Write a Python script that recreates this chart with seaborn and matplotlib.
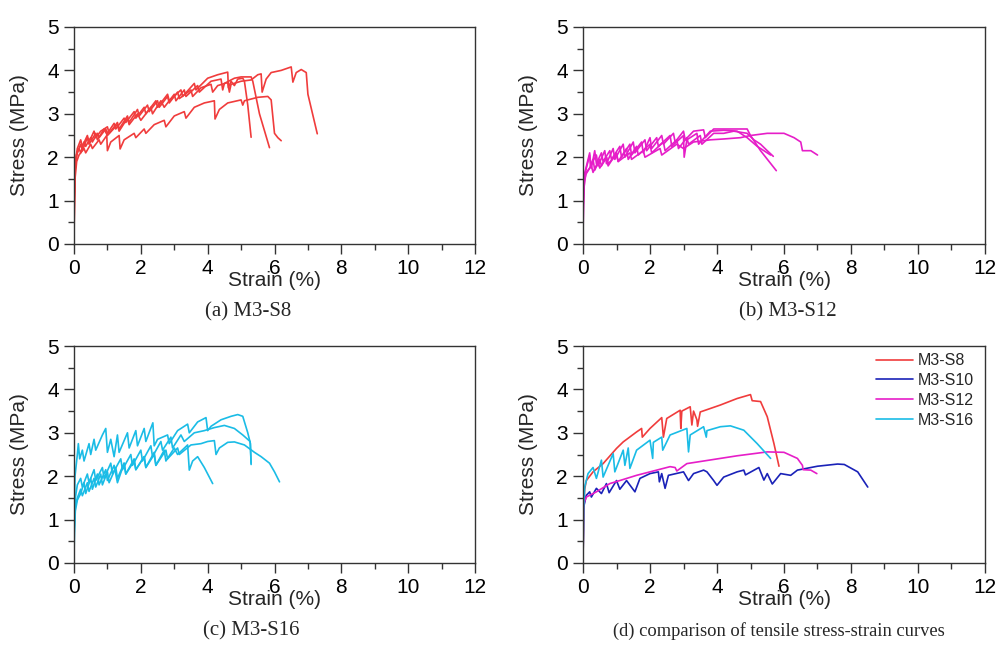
import numpy as np
import pandas as pd
import matplotlib
matplotlib.use("Agg")
import matplotlib.pyplot as plt
from matplotlib.ticker import MultipleLocator
import seaborn as sns

# ---------------- data ----------------
# (a) M3-S8 specimens
s8_1_strain = [0, 0.01, 0.03, 0.07, 0.15, 0.2, 0.3, 0.35, 0.5, 0.55, 0.7, 0.75, 0.95, 1.0, 1.2, 1.25, 1.5, 1.55, 1.8, 1.85, 2.1, 2.15, 2.45, 2.5, 2.8, 2.85, 3.2, 3.25, 3.6, 3.65, 4.0, 4.3, 4.6, 4.62, 4.7, 4.8, 4.9, 5.05, 5.1, 5.2, 5.3]
s8_1_stress = [0, 0.9, 1.7, 2.05, 2.2, 2.1, 2.35, 2.25, 2.45, 2.35, 2.55, 2.45, 2.65, 2.55, 2.78, 2.65, 2.9, 2.8, 3.05, 2.9, 3.15, 3.0, 3.3, 3.15, 3.45, 3.3, 3.55, 3.4, 3.7, 3.55, 3.82, 3.9, 3.96, 3.6, 3.75, 3.65, 3.8, 3.82, 3.75, 3.2, 2.46]
s8_2_strain = [0, 0.01, 0.04, 0.1, 0.2, 0.25, 0.4, 0.45, 0.65, 0.7, 0.9, 1.0, 1.3, 1.35, 1.6, 1.65, 1.9, 2.0, 2.3, 2.35, 2.6, 2.7, 3.0, 3.05, 3.3, 3.35, 3.7, 3.75, 4.1, 4.4, 4.45, 4.5, 4.8, 5.0, 5.3, 5.35, 5.55, 5.85]
s8_2_stress = [0, 1.0, 1.8, 2.1, 2.3, 2.15, 2.45, 2.3, 2.55, 2.4, 2.65, 2.5, 2.75, 2.6, 2.9, 2.75, 3.0, 2.85, 3.15, 3.0, 3.3, 3.15, 3.45, 3.3, 3.55, 3.4, 3.65, 3.5, 3.75, 3.8, 3.55, 3.7, 3.82, 3.85, 3.85, 3.75, 3.0, 2.22]
s8_3_strain = [0, 0.01, 0.03, 0.08, 0.15, 0.3, 0.35, 0.5, 0.55, 0.75, 0.8, 0.98, 1.0, 1.1, 1.35, 1.38, 1.5, 1.8, 1.85, 2.1, 2.15, 2.4, 2.7, 2.75, 3.0, 3.3, 3.35, 3.6, 3.9, 4.2, 4.22, 4.35, 4.6, 5.0, 5.05, 5.1, 5.5, 5.8, 5.9, 6.0, 6.1, 6.2]
s8_3_stress = [0, 0.8, 1.5, 1.9, 2.05, 2.2, 2.1, 2.3, 2.2, 2.4, 2.3, 2.5, 2.15, 2.35, 2.5, 2.19, 2.4, 2.55, 2.45, 2.65, 2.55, 2.75, 2.85, 2.7, 2.95, 3.05, 2.9, 3.15, 3.25, 3.3, 2.88, 3.1, 3.25, 3.32, 3.2, 3.3, 3.38, 3.4, 3.32, 2.55, 2.45, 2.38]
s8_4_strain = [0, 0.01, 0.04, 0.1, 0.2, 0.25, 0.4, 0.45, 0.6, 0.65, 0.8, 1.0, 1.05, 1.3, 1.35, 1.6, 1.65, 1.9, 1.95, 2.2, 2.25, 2.5, 2.55, 2.8, 2.85, 3.1, 3.15, 3.5, 3.55, 3.8, 4.1, 4.15, 4.3, 4.6, 4.65, 4.7, 5.0, 5.3, 5.5, 5.6, 5.63, 5.75, 5.9, 6.2, 6.5, 6.55, 6.65, 6.8, 6.95, 7.0, 7.28]
s8_4_stress = [0, 1.1, 1.9, 2.2, 2.4, 2.25, 2.5, 2.35, 2.6, 2.45, 2.6, 2.7, 2.55, 2.8, 2.65, 2.95, 2.8, 3.1, 2.95, 3.2, 3.05, 3.3, 3.15, 3.4, 3.25, 3.5, 3.35, 3.55, 3.4, 3.6, 3.68, 3.5, 3.65, 3.72, 3.5, 3.68, 3.75, 3.78, 3.9, 3.92, 3.5, 3.8, 3.95, 4.0, 4.08, 3.73, 3.95, 4.02, 3.95, 3.45, 2.54]

# (b) M3-S12 specimens
s12_1_strain = [0, 0.01, 0.03, 0.08, 0.2, 0.3, 0.35, 0.5, 0.55, 0.7, 0.75, 1.0, 1.05, 1.4, 1.45, 1.8, 1.85, 2.3, 2.35, 2.8, 3.0, 3.3, 3.8, 4.2, 4.7, 5.0, 5.5, 6.0, 6.3, 6.5, 6.55, 6.8, 7.0]
s12_1_stress = [0, 0.8, 1.3, 1.6, 1.75, 1.95, 1.7, 1.95, 1.8, 2.0, 1.85, 2.05, 1.9, 2.1, 1.95, 2.15, 2.0, 2.2, 2.05, 2.3, 2.2, 2.35, 2.4, 2.42, 2.45, 2.5, 2.55, 2.55, 2.45, 2.35, 2.15, 2.15, 2.05]
s12_2_strain = [0, 0.01, 0.03, 0.1, 0.2, 0.25, 0.35, 0.4, 0.55, 0.6, 0.8, 0.85, 1.1, 1.15, 1.4, 1.45, 1.75, 1.8, 2.0, 2.05, 2.35, 2.4, 2.7, 2.75, 3.0, 3.05, 3.3, 3.6, 3.65, 3.9, 4.3, 4.9, 5.0, 5.3, 5.77]
s12_2_stress = [0, 1.0, 1.5, 1.75, 2.05, 1.75, 2.15, 1.85, 2.1, 1.9, 2.15, 1.95, 2.25, 2.0, 2.3, 2.05, 2.35, 2.1, 2.45, 2.2, 2.5, 2.3, 2.55, 2.35, 2.6, 2.4, 2.6, 2.63, 2.45, 2.65, 2.65, 2.65, 2.5, 2.15, 1.69]
s12_3_strain = [0, 0.01, 0.04, 0.1, 0.25, 0.3, 0.45, 0.5, 0.7, 0.75, 1.0, 1.05, 1.3, 1.35, 1.6, 1.65, 2.0, 2.05, 2.4, 2.45, 2.8, 2.85, 3.1, 3.15, 3.5, 3.55, 3.9, 4.2, 4.5, 4.9, 5.1, 5.3, 5.5, 5.68]
s12_3_stress = [0, 0.9, 1.45, 1.65, 1.8, 1.65, 1.9, 1.75, 2.0, 1.8, 2.1, 1.9, 2.2, 1.95, 2.25, 2.05, 2.3, 2.1, 2.35, 2.15, 2.4, 2.2, 2.45, 2.3, 2.5, 2.3, 2.55, 2.55, 2.6, 2.55, 2.4, 2.3, 2.15, 2.02]
s12_4_strain = [0, 0.01, 0.04, 0.12, 0.2, 0.22, 0.4, 0.45, 0.65, 0.7, 0.9, 0.95, 1.2, 1.25, 1.5, 1.55, 1.85, 1.9, 2.2, 2.25, 2.6, 2.65, 3.0, 3.02, 3.1, 3.4, 3.45, 3.8, 4.2, 4.6, 4.9, 5.2, 5.6]
s12_4_stress = [0, 1.1, 1.6, 1.85, 2.1, 1.8, 2.05, 1.8, 2.15, 1.85, 2.2, 1.95, 2.3, 2.0, 2.35, 2.1, 2.4, 2.15, 2.45, 2.25, 2.5, 2.25, 2.5, 2.0, 2.4, 2.55, 2.3, 2.6, 2.62, 2.6, 2.45, 2.25, 2.05]

# (c) M3-S16 specimens
s16_1_strain = [0, 0.01, 0.03, 0.1, 0.13, 0.17, 0.25, 0.3, 0.45, 0.5, 0.6, 0.65, 0.85, 0.95, 1.0, 1.1, 1.2, 1.3, 1.35, 1.6, 1.65, 1.85, 1.9, 2.1, 2.15, 2.36, 2.4, 2.5, 2.8, 2.85, 3.1, 3.4, 3.45, 3.7, 3.95, 4.0, 4.1, 4.4, 4.7, 4.9, 5.05, 5.2, 5.28, 5.3]
s16_1_stress = [0, 1.2, 2.0, 2.5, 2.75, 2.4, 2.6, 2.35, 2.75, 2.5, 2.85, 2.6, 2.95, 3.1, 2.55, 2.85, 2.45, 2.95, 2.55, 3.0, 2.65, 3.05, 2.7, 3.1, 2.8, 3.23, 2.7, 2.85, 2.95, 2.75, 3.05, 3.2, 3.0, 3.25, 3.35, 3.05, 3.15, 3.3, 3.38, 3.42, 3.38, 3.0, 2.75, 2.27]
s16_2_strain = [0, 0.01, 0.04, 0.1, 0.2, 0.25, 0.4, 0.45, 0.6, 0.65, 0.8, 0.85, 1.0, 1.05, 1.25, 1.3, 1.5, 1.55, 1.8, 1.85, 2.1, 2.15, 2.4, 2.45, 2.7, 2.75, 3.0, 3.1, 3.4, 3.45, 3.55, 3.7, 3.9, 4.15]
s16_2_stress = [0, 0.8, 1.3, 1.5, 1.7, 1.55, 1.85, 1.65, 1.95, 1.75, 2.05, 1.8, 2.1, 1.85, 2.2, 1.95, 2.3, 2.05, 2.4, 2.15, 2.45, 2.2, 2.55, 2.25, 2.6, 2.35, 2.65, 2.5, 2.72, 2.14, 2.35, 2.45, 2.2, 1.83]
s16_3_strain = [0, 0.01, 0.04, 0.1, 0.2, 0.25, 0.4, 0.45, 0.6, 0.65, 0.85, 0.9, 1.1, 1.15, 1.4, 1.45, 1.7, 1.75, 2.0, 2.05, 2.3, 2.35, 2.6, 2.65, 2.9, 2.95, 3.2, 3.3, 3.6, 3.9, 4.2, 4.5, 4.8, 5.05, 5.27, 5.3]
s16_3_stress = [0, 0.9, 1.5, 1.8, 1.95, 1.75, 2.05, 1.85, 2.15, 1.9, 2.2, 1.95, 2.3, 2.05, 2.4, 2.15, 2.5, 2.25, 2.6, 2.35, 2.7, 2.45, 2.8, 2.6, 2.9, 2.65, 2.95, 2.8, 3.0, 3.05, 3.12, 3.17, 3.1, 2.95, 2.8, 2.3]
s16_4_strain = [0, 0.01, 0.04, 0.1, 0.2, 0.3, 0.35, 0.5, 0.55, 0.7, 0.75, 0.95, 1.0, 1.2, 1.3, 1.5, 1.55, 1.8, 1.85, 2.1, 2.15, 2.4, 2.45, 2.75, 2.8, 3.1, 3.15, 3.5, 3.8, 4.0, 4.2, 4.25, 4.35, 4.6, 4.8, 5.1, 5.4, 5.6, 5.85, 6.0, 6.15]
s16_4_stress = [0, 0.7, 1.2, 1.45, 1.6, 1.85, 1.6, 1.95, 1.7, 2.05, 1.8, 2.15, 1.9, 2.25, 1.85, 2.3, 2.05, 2.35, 2.15, 2.45, 2.2, 2.5, 2.25, 2.6, 2.4, 2.65, 2.5, 2.72, 2.75, 2.8, 2.82, 2.5, 2.65, 2.78, 2.79, 2.72, 2.55, 2.45, 2.3, 2.1, 1.87]

# (d) representative curves
cmp_s8_strain = [0, 0.02, 0.05, 0.1, 0.3, 0.6, 1.0, 1.2, 1.6, 1.75, 1.77, 2.0, 2.35, 2.4, 2.5, 2.9, 2.92, 2.95, 3.2, 3.25, 3.3, 3.4, 3.42, 3.5, 4.1, 4.6, 5.0, 5.05, 5.3, 5.5, 5.7, 5.85]
cmp_s8_stress = [0, 1.2, 1.7, 1.9, 2.1, 2.29, 2.64, 2.79, 3.02, 3.1, 2.9, 3.1, 3.35, 2.9, 3.33, 3.52, 3.1, 3.5, 3.6, 3.18, 3.5, 3.3, 3.15, 3.48, 3.64, 3.79, 3.88, 3.74, 3.72, 3.37, 2.75, 2.23]
cmp_s10_strain = [0, 0.02, 0.1, 0.2, 0.25, 0.4, 0.55, 0.7, 0.78, 1.0, 1.1, 1.3, 1.55, 1.7, 2.0, 2.25, 2.28, 2.35, 2.45, 2.55, 3.0, 3.15, 3.3, 3.6, 3.7, 3.9, 4.0, 4.2, 4.6, 4.8, 4.85, 5.25, 5.4, 5.5, 5.65, 5.9, 6.2, 6.4, 7.0, 7.6, 7.8, 8.2, 8.5]
cmp_s10_stress = [0, 1.29, 1.56, 1.64, 1.52, 1.72, 1.6, 1.83, 1.62, 1.9, 1.7, 1.9, 1.64, 1.95, 2.06, 2.1, 1.87, 2.06, 1.72, 2.02, 2.1, 1.9, 2.06, 2.14, 2.1, 1.9, 1.79, 1.98, 2.1, 2.14, 2.03, 2.2, 1.91, 2.06, 1.82, 2.06, 2.02, 2.14, 2.23, 2.28, 2.27, 2.1, 1.75]
cmp_s12_strain = [0, 0.02, 0.1, 0.4, 0.8, 1.1, 1.6, 2.1, 2.6, 2.75, 2.8, 3.1, 3.6, 4.1, 4.6, 5.1, 5.5, 6.0, 6.4, 6.55, 6.57, 6.8, 6.98]
cmp_s12_stress = [0, 1.37, 1.52, 1.64, 1.83, 1.9, 2.02, 2.12, 2.22, 2.2, 2.12, 2.29, 2.35, 2.41, 2.47, 2.52, 2.56, 2.55, 2.41, 2.25, 2.15, 2.14, 2.06]
cmp_s16_strain = [0, 0.02, 0.05, 0.15, 0.3, 0.4, 0.55, 0.6, 0.9, 0.95, 1.2, 1.25, 1.35, 1.4, 1.6, 2.0, 2.08, 2.1, 2.35, 2.38, 2.6, 3.1, 3.15, 3.2, 3.6, 3.68, 3.7, 4.1, 4.4, 4.8, 5.2, 5.6]
cmp_s16_stress = [0, 1.3, 1.75, 2.06, 2.2, 1.95, 2.37, 1.98, 2.52, 2.1, 2.6, 2.25, 2.65, 2.18, 2.6, 2.83, 2.41, 2.78, 2.9, 2.6, 2.95, 3.1, 2.56, 2.95, 3.14, 2.9, 3.05, 3.14, 3.16, 3.06, 2.75, 2.41]

legend_labels = ["M3-S8", "M3-S10", "M3-S12", "M3-S16"]
captions = ["(a) M3-S8", "(b) M3-S12", "(c) M3-S16", "(d) comparison of tensile stress-strain curves"]
x_ticks = [0, 2, 4, 6, 8, 10, 12]
y_ticks = [0, 1, 2, 3, 4, 5]

# ---------------- styling ----------------
sns.set_theme(style="ticks")
plt.rcParams["font.family"] = ["Liberation Sans", "DejaVu Sans"]

RED = "#F03C3C"
BLUE = "#1A22B8"
MAGENTA = "#E61EC8"
CYAN = "#1ABCE6"

W, H = 998, 646
fig = plt.figure(figsize=(W / 100, H / 100), dpi=100)

def box(left, top, right, bottom):
    return [left / W, 1 - bottom / H, (right - left) / W, (bottom - top) / H]

ax_pos = [box(74, 27, 475, 244), box(583, 27, 985, 244),
          box(74, 346, 475, 563), box(583, 346, 985, 563)]
axes = [fig.add_axes(p) for p in ax_pos]

def curves_df(pairs):
    frames = []
    for i, (sx, sy) in enumerate(pairs):
        frames.append(pd.DataFrame({"strain": sx, "stress": sy, "specimen": i}))
    return pd.concat(frames, ignore_index=True)

panel_sets = [
    ([(s8_1_strain, s8_1_stress), (s8_2_strain, s8_2_stress),
      (s8_3_strain, s8_3_stress), (s8_4_strain, s8_4_stress)], RED),
    ([(s12_1_strain, s12_1_stress), (s12_2_strain, s12_2_stress),
      (s12_3_strain, s12_3_stress), (s12_4_strain, s12_4_stress)], MAGENTA),
    ([(s16_1_strain, s16_1_stress), (s16_2_strain, s16_2_stress),
      (s16_3_strain, s16_3_stress), (s16_4_strain, s16_4_stress)], CYAN),
]

for ax, (pairs, col) in zip(axes[:3], panel_sets):
    df = curves_df(pairs)
    sns.lineplot(data=df, x="strain", y="stress", units="specimen", estimator=None,
                 sort=False, color=col, lw=1.2, ax=ax)

cmp_df = pd.concat([
    pd.DataFrame({"strain": cmp_s8_strain, "stress": cmp_s8_stress, "series": legend_labels[0]}),
    pd.DataFrame({"strain": cmp_s10_strain, "stress": cmp_s10_stress, "series": legend_labels[1]}),
    pd.DataFrame({"strain": cmp_s12_strain, "stress": cmp_s12_stress, "series": legend_labels[2]}),
    pd.DataFrame({"strain": cmp_s16_strain, "stress": cmp_s16_stress, "series": legend_labels[3]}),
], ignore_index=True)
sns.lineplot(data=cmp_df, x="strain", y="stress", hue="series", hue_order=legend_labels,
             palette=[RED, BLUE, MAGENTA, CYAN], estimator=None, sort=False, lw=1.2,
             ax=axes[3])

for ax in axes:
    ax.set_xlim(0, 12)
    ax.set_ylim(0, 5)
    ax.set_xticks(x_ticks)
    ax.set_yticks(y_ticks)
    ax.xaxis.set_minor_locator(MultipleLocator(1))
    ax.yaxis.set_minor_locator(MultipleLocator(0.5))
    for s in ax.spines.values():
        s.set_visible(True)
        s.set_color("#333333")
        s.set_linewidth(1.0)
    ax.tick_params(which="major", direction="out", length=7, width=1.0, color="#333333",
                   labelsize=15, pad=4, labelcolor="black")
    ax.tick_params(which="minor", direction="out", length=4, width=1.0, color="#333333")
    ax.tick_params(top=False, right=False, which="both")
    ax.set_xlabel("Strain (%)", fontsize=15)
    ax.set_ylabel("Stress (MPa)", fontsize=15)
    ax.xaxis.label.set_va("center")
    ax.yaxis.label.set_va("center")
    ax.xaxis.set_label_coords(0.5, -0.17)
    ax.yaxis.set_label_coords(-0.135, 0.5)
    ax.set_facecolor("white")

leg = axes[3].legend(title=None, loc="upper right", bbox_to_anchor=(0.99, 1.0),
                     frameon=False, fontsize=11.5,
                     handlelength=2.3, handletextpad=0.3, labelspacing=0.3,
                     borderaxespad=0.15, borderpad=0.3)
for h in leg.get_lines():
    h.set_linewidth(1.2)

cap_pos = [(248, 312, 15), (788, 312, 15), (251, 631, 15), (779, 631, 13.3)]
for (cx, cy, fs), txt in zip(cap_pos, captions):
    fig.text(cx / W, 1 - cy / H, txt, ha="center", va="center", fontsize=fs,
             family=["Liberation Serif", "DejaVu Serif"])

fig.savefig("out.png", dpi=100, facecolor="white")
